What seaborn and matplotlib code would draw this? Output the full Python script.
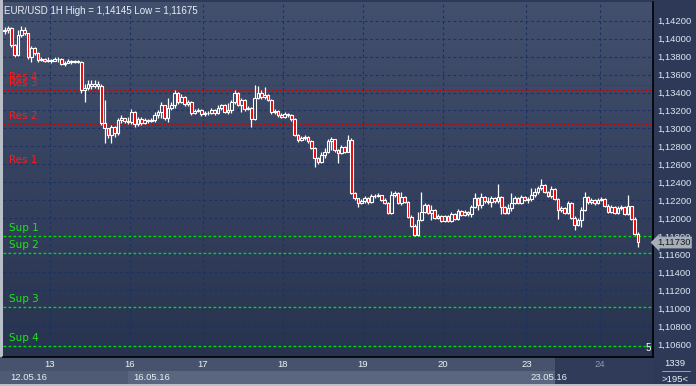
import numpy as np
import matplotlib
matplotlib.use("Agg")
import matplotlib.pyplot as plt
import matplotlib.transforms as mtransforms
from matplotlib.colors import LinearSegmentedColormap
from matplotlib.patches import Rectangle
import seaborn as sns

# EUR/USD 1H candles
first_open = 1.14085
close = [1.14096, 1.14118, 1.13929, 1.13818, 1.14040, 1.14096, 1.14063, 1.13796, 1.13896, 1.13841,
         1.13763, 1.13774, 1.13752, 1.13763, 1.13752, 1.13774, 1.13774, 1.13718, 1.13729, 1.13752,
         1.13740, 1.13752, 1.13740, 1.13429, 1.13451, 1.13495, 1.13473, 1.13495, 1.13473, 1.13061,
         1.13005, 1.12927, 1.13016, 1.12950, 1.13094, 1.13116, 1.13083, 1.13072, 1.13183, 1.13050,
         1.13105, 1.13061, 1.13094, 1.13083, 1.13094, 1.13150, 1.13183, 1.13261, 1.13116, 1.13228,
         1.13261, 1.13395, 1.13295, 1.13351, 1.13272, 1.13295, 1.13172, 1.13195, 1.13206, 1.13161,
         1.13172, 1.13172, 1.13206, 1.13172, 1.13228, 1.13261, 1.13183, 1.13206, 1.13295, 1.13395,
         1.13261, 1.13317, 1.13217, 1.13228, 1.13105, 1.13340, 1.13395, 1.13351, 1.13373, 1.13317,
         1.13183, 1.13195, 1.13150, 1.13128, 1.13161, 1.13150, 1.13105, 1.12927, 1.12872, 1.12894,
         1.12905, 1.12860, 1.12783, 1.12671, 1.12626, 1.12704, 1.12738, 1.12860, 1.12883, 1.12760,
         1.12727, 1.12794, 1.12738, 1.12872, 1.12281, 1.12226, 1.12171, 1.12193, 1.12226, 1.12182,
         1.12248, 1.12248, 1.12259, 1.12204, 1.12171, 1.12059, 1.12259, 1.12281, 1.12171, 1.12237,
         1.12182, 1.12015, 1.11915, 1.11814, 1.11981, 1.12070, 1.12148, 1.12059, 1.12093, 1.12004,
         1.12026, 1.11970, 1.12026, 1.11970, 1.12048, 1.11992, 1.12082, 1.12037, 1.12070, 1.12048,
         1.12126, 1.12226, 1.12148, 1.12237, 1.12193, 1.12182, 1.12226, 1.12193, 1.12237, 1.12126,
         1.12059, 1.12115, 1.12171, 1.12226, 1.12171, 1.12237, 1.12204, 1.12215, 1.12259, 1.12292,
         1.12337, 1.12370, 1.12292, 1.12248, 1.12326, 1.12215, 1.12093, 1.12115, 1.12059, 1.12171,
         1.12004, 1.11926, 1.11981, 1.12093, 1.12237, 1.12182, 1.12204, 1.12171, 1.12204, 1.12215,
         1.12137, 1.12070, 1.12126, 1.12059, 1.12115, 1.12126, 1.12048, 1.12137, 1.11992, 1.11826,
         1.11730]
high = [1.14129, 1.14140, 1.14129, 1.13940, 1.14096, 1.14145, 1.14129, 1.14063, 1.13918, 1.13907,
        1.13852, 1.13796, 1.13785, 1.13796, 1.13774, 1.13796, 1.13796, 1.13785, 1.13752, 1.13774,
        1.13763, 1.13763, 1.13763, 1.13752, 1.13495, 1.13540, 1.13540, 1.13540, 1.13529, 1.13495,
        1.13317, 1.13005, 1.13039, 1.13027, 1.13116, 1.13150, 1.13116, 1.13128, 1.13217, 1.13195,
        1.13128, 1.13128, 1.13116, 1.13105, 1.13116, 1.13183, 1.13206, 1.13295, 1.13250, 1.13340,
        1.13295, 1.13429, 1.13406, 1.13384, 1.13362, 1.13317, 1.13306, 1.13217, 1.13228, 1.13217,
        1.13195, 1.13195, 1.13228, 1.13217, 1.13261, 1.13272, 1.13272, 1.13284, 1.13317, 1.13429,
        1.13406, 1.13340, 1.13328, 1.13250, 1.13239, 1.13484, 1.13473, 1.13429, 1.13462, 1.13384,
        1.13328, 1.13217, 1.13206, 1.13172, 1.13183, 1.13172, 1.13161, 1.13116, 1.12938, 1.12916,
        1.12927, 1.12916, 1.12872, 1.12794, 1.12682, 1.12738, 1.12783, 1.12883, 1.12905, 1.12872,
        1.12771, 1.12816, 1.12805, 1.12927, 1.12894, 1.12292, 1.12215, 1.12215, 1.12248, 1.12237,
        1.12270, 1.12270, 1.12281, 1.12259, 1.12226, 1.12182, 1.12303, 1.12303, 1.12292, 1.12292,
        1.12248, 1.12193, 1.12037, 1.11937, 1.12070, 1.12292, 1.12171, 1.12159, 1.12148, 1.12104,
        1.12048, 1.12037, 1.12037, 1.12037, 1.12070, 1.12059, 1.12104, 1.12093, 1.12093, 1.12082,
        1.12148, 1.12281, 1.12237, 1.12281, 1.12248, 1.12237, 1.12248, 1.12237, 1.12381, 1.12248,
        1.12137, 1.12159, 1.12281, 1.12248, 1.12237, 1.12259, 1.12248, 1.12237, 1.12337, 1.12337,
        1.12359, 1.12437, 1.12381, 1.12303, 1.12359, 1.12337, 1.12226, 1.12137, 1.12126, 1.12193,
        1.12182, 1.12026, 1.12004, 1.12126, 1.12292, 1.12248, 1.12226, 1.12215, 1.12226, 1.12237,
        1.12226, 1.12159, 1.12148, 1.12137, 1.12137, 1.12148, 1.12137, 1.12259, 1.12137, 1.12015,
        1.11848]
low = [1.14051, 1.14063, 1.13907, 1.13796, 1.13807, 1.14018, 1.14040, 1.13774, 1.13740, 1.13818,
       1.13740, 1.13752, 1.13740, 1.13740, 1.13729, 1.13752, 1.13740, 1.13707, 1.13696, 1.13729,
       1.13718, 1.13729, 1.13729, 1.13395, 1.13295, 1.13429, 1.13440, 1.13451, 1.13440, 1.13039,
       1.12838, 1.12894, 1.12838, 1.12905, 1.12927, 1.13061, 1.13061, 1.13050, 1.13050, 1.13016,
       1.13027, 1.13039, 1.13050, 1.13061, 1.13072, 1.13072, 1.13116, 1.13116, 1.13094, 1.13072,
       1.13206, 1.13228, 1.13272, 1.13284, 1.13250, 1.13250, 1.13150, 1.13161, 1.13183, 1.13139,
       1.13139, 1.13150, 1.13161, 1.13150, 1.13161, 1.13206, 1.13172, 1.13161, 1.13172, 1.13272,
       1.13250, 1.13183, 1.13195, 1.13206, 1.13016, 1.13094, 1.13328, 1.13328, 1.13328, 1.13306,
       1.13161, 1.13161, 1.13128, 1.13116, 1.13116, 1.13128, 1.13083, 1.12916, 1.12849, 1.12860,
       1.12872, 1.12838, 1.12771, 1.12571, 1.12604, 1.12615, 1.12671, 1.12727, 1.12760, 1.12738,
       1.12615, 1.12715, 1.12727, 1.12738, 1.12270, 1.12204, 1.12126, 1.12159, 1.12171, 1.12159,
       1.12171, 1.12226, 1.12237, 1.12193, 1.12159, 1.12048, 1.12048, 1.12237, 1.12159, 1.12148,
       1.12171, 1.12004, 1.11903, 1.11803, 1.11803, 1.11970, 1.12059, 1.12048, 1.11981, 1.11992,
       1.11992, 1.11959, 1.11959, 1.11959, 1.11959, 1.11981, 1.11981, 1.12026, 1.12026, 1.12026,
       1.12015, 1.12115, 1.12093, 1.12115, 1.12171, 1.12159, 1.12126, 1.12171, 1.12171, 1.12048,
       1.12048, 1.12048, 1.12082, 1.12159, 1.12159, 1.12159, 1.12193, 1.12171, 1.12193, 1.12237,
       1.12270, 1.12315, 1.12281, 1.12237, 1.12226, 1.12204, 1.11992, 1.12070, 1.12048, 1.12048,
       1.11992, 1.11870, 1.11915, 1.11903, 1.12082, 1.12159, 1.12159, 1.12148, 1.12159, 1.12193,
       1.12126, 1.12059, 1.12059, 1.12048, 1.12048, 1.12093, 1.12037, 1.12037, 1.11981, 1.11814,
       1.11675]

# support / resistance levels
res_names = ["Res 4", "Res 3", "Res 2", "Res 1"]
res_levels = [1.13481, 1.13425, 1.13050, 1.12567]
sup_names = ["Sup 1", "Sup 2", "Sup 3", "Sup 4"]
sup_levels = [1.11800, 1.11610, 1.11009, 1.10581]

# day separators (bar index) and labels
day_pos = [13.5, 37.5, 59.5, 83.5, 107.5, 131.5, 156.5, 178.5]
day_labels = ["13", "16", "17", "18", "19", "20", "23", "24"]
price_ticks = [1.106, 1.108, 1.110, 1.112, 1.114, 1.116, 1.118, 1.120, 1.122, 1.124,
               1.126, 1.128, 1.130, 1.132, 1.134, 1.136, 1.138, 1.140, 1.142]

sns.set_style("dark")
plt.rcParams['font.family'] = ['Liberation Sans', 'DejaVu Sans']

W, H = 696, 386


def box(x0, y0, x1, y1):
    return [x0 / W, 1 - y1 / H, (x1 - x0) / W, (y1 - y0) / H]


fig = plt.figure(figsize=(W / 100, H / 100), dpi=100)
fig.patch.set_facecolor('#2d3957')

# frame panels around the chart (drawn below the axes)
panels = [
    ((0, 0, 3, 386), '#b9bfc9'),
    ((0, 357, 653, 371), '#47536c'),
    ((555, 357, 653, 371), '#2f3b59'),
    ((0, 371, 128, 384), '#4f5b75'),
    ((128, 371, 555, 384), '#5a6680'),
    ((555, 371, 653, 384), '#2f3b59'),
    ((0, 384, 696, 386), '#b9bfc9'),
]
for (x0, y0, x1, y1), col in panels:
    fig.patches.append(Rectangle((x0 / W, 1 - y1 / H), (x1 - x0) / W, (y1 - y0) / H,
                                 transform=fig.transFigure, facecolor=col, edgecolor='none',
                                 zorder=-5))

ax = fig.add_axes(box(3, 2, 653, 357))
ax.set_facecolor('#36425f')

# gradient background
bg = LinearSegmentedColormap.from_list('bg', ['#42506e', '#28334f'])
ax.imshow(np.linspace(0, 1, 256).reshape(-1, 1), cmap=bg, extent=[0, 1, 0, 1],
          transform=ax.transAxes, aspect='auto', zorder=0)

idx = np.arange(len(close))
c = np.array(close)
o = np.array([first_open] + close[:-1])
hi = np.array(high)
lo = np.array(low)
top = np.maximum(o, c)
bot = np.minimum(o, c)
bull = c >= o

# grid
for p in price_ticks:
    ax.axhline(p, color='#1b3262', lw=0.8, ls=(0, (2.5, 2.5)), zorder=1)
for d in day_pos:
    ax.axvline(d, color='#1b3262', lw=0.8, ls=(0, (2.5, 2.5)), zorder=1)

# levels
for name, lvl in zip(res_names, res_levels):
    ax.axhline(lvl, color='#d00000', lw=0.7, ls=(0, (2, 2)), zorder=1.5)
    ax.annotate(name, (0, lvl), xytext=(3, 2), textcoords='offset points',
                color='#ff1a1a', fontsize=7.5, va='bottom', ha='left', family='DejaVu Sans')
for name, lvl in zip(sup_names, sup_levels):
    ax.axhline(lvl, color='#00e000', lw=1.0, ls=(0, (2, 1.6)), zorder=1.5)
    ax.annotate(name, (0, lvl), xytext=(3, 2), textcoords='offset points',
                color='#19e619', fontsize=7.5, va='bottom', ha='left', family='DejaVu Sans')

# candles
ax.vlines(idx, top, hi, color='white', lw=0.9, zorder=2)
ax.vlines(idx, lo, bot, color='white', lw=0.9, zorder=2)
h = np.maximum(top - bot, 0.00002)
ax.bar(idx[bull], h[bull], bottom=bot[bull], width=0.75, facecolor='#33405e',
       edgecolor='white', lw=0.8, zorder=3)
ax.bar(idx[~bull], h[~bull], bottom=bot[~bull], width=0.75, facecolor='#ee0000',
       edgecolor='white', lw=0.8, zorder=3)

ax.set_xlim(-0.5, 194.5)
ax.set_ylim(1.10455, 1.14408)

for s in ['left', 'top']:
    ax.spines[s].set_visible(False)
for s in ['right', 'bottom']:
    ax.spines[s].set_visible(True)
    ax.spines[s].set_color('black')
    ax.spines[s].set_linewidth(1.2)

ax.yaxis.tick_right()
ax.set_yticks(price_ticks)
ax.set_yticklabels([f"{p:.5f}".replace('.', ',') for p in price_ticks])
ax.set_xticks(day_pos)
ax.set_xticklabels(day_labels)
ax.tick_params(axis='y', length=0, pad=3, labelsize=6.8, labelcolor='#dfe7f2')
ax.tick_params(axis='x', length=0, pad=2.5, labelsize=6.8, labelcolor='#eef2f8')
ax.get_xticklabels()[-1].set_color('#8f9ab0')
ax.grid(False)

# title
ax.text(0.002, 0.99, "EUR/USD 1H High = 1,14145 Low = 1,11675", transform=ax.transAxes,
        color='#e8eef6', fontsize=7, va='top', ha='left')

# current price tag (covers the 1,11800 label as in the terminal)
trans = mtransforms.blended_transform_factory(ax.transAxes, ax.transData)
ax.text(1.006, close[-1], f"{close[-1]:.5f}".replace('.', ','), transform=trans,
        fontsize=6.8, color='#1a1a1a', va='center', ha='left', zorder=6, clip_on=False,
        bbox=dict(boxstyle='larrow,pad=0.15', fc='#a6aeb8', ec='none'))

ax.text(0.997, 0.012, "5", transform=ax.transAxes, color='white', fontsize=7,
        ha='right', va='bottom')

# bottom date strip and corner box
fig.text(10 / W, 1 - 378 / H, "12.05.16", color='#e8eef6', fontsize=6.8, va='center')
fig.text(133 / W, 1 - 378 / H, "16.05.16", color='#e8eef6', fontsize=6.8, va='center')
fig.text(530 / W, 1 - 378 / H, "23.05.16", color='#e8eef6', fontsize=6.8, va='center')
fig.text(675 / W, 1 - 364 / H, "1339", color='#e8eef6', fontsize=6.8, va='center', ha='center')
fig.text(675 / W, 1 - 379 / H, ">195<", color='#e8eef6', fontsize=6.8, va='center', ha='center')
fig.lines.append(plt.Line2D([662 / W, 690 / W], [1 - 371 / H, 1 - 371 / H],
                            transform=fig.transFigure, color='#aab2c0', lw=0.6))

fig.savefig("out.png", dpi=100, facecolor=fig.get_facecolor())
